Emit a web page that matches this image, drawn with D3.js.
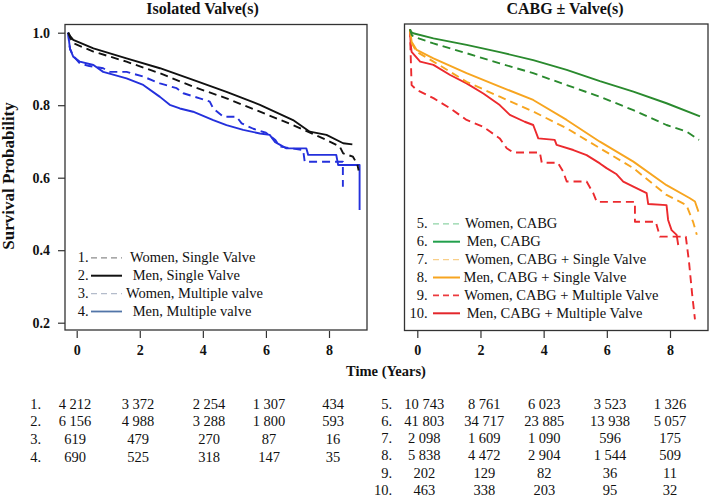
<!DOCTYPE html>
<html>
<head>
<meta charset="utf-8">
<script src="https://cdn.jsdelivr.net/npm/d3@7"></script>
<style>
  html, body { margin: 0; padding: 0; background: #fff; }
  svg { display: block; }
  text { font-family: "Liberation Serif", "Times New Roman", serif; fill: #111; }
</style>
</head>
<body>
<svg id="chart" width="709" height="497"></svg>
<script>
// ---------------- DATA ----------------
const xTicks = [0, 2, 4, 6, 8];
const yTicks = [0.2, 0.4, 0.6, 0.8, 1.0];

// Panel titles
const titleLeft = "Isolated Valve(s)";
const titleRight = "CABG \u00b1 Valve(s)";

// Isolated valve(s) curves: [time (years), survival]
const womenSingleValve = [[-0.27,1],[-0.2,0.985],[-0.11,0.971],[0.53,0.948],[1.58,0.92],[2.64,0.888],[3.69,0.851],[4.75,0.819],[5.81,0.782],[6.86,0.745],[7.92,0.704],[8.34,0.686],[8.45,0.667],[8.76,0.658],[8.9,0.636],[8.94,0.62]];
const menSingleValve = [[-0.27,1],[-0.2,0.99],[-0.11,0.98],[0.53,0.957],[1.58,0.929],[2.64,0.902],[3.69,0.87],[4.75,0.837],[5.81,0.801],[6.86,0.759],[7.39,0.727],[7.92,0.718],[8.45,0.695],[8.74,0.692]];
const womenMultipleValve = [[-0.27,1],[-0.24,0.97],[-0.21,0.955],[-0.11,0.936],[0.1,0.915],[0.4,0.908],[0.84,0.902],[1.05,0.892],[1.58,0.892],[2.11,0.879],[2.64,0.86],[3.17,0.847],[3.38,0.833],[3.9,0.819],[4.22,0.81],[4.33,0.791],[4.65,0.768],[5.07,0.768],[5.23,0.75],[5.6,0.735],[6.0,0.724],[6.3,0.704],[6.44,0.686],[7.18,0.676],[7.23,0.644],[8.44,0.644],[8.44,0.575]];
const menMultipleValve = [[-0.27,1],[-0.24,0.975],[-0.21,0.955],[-0.11,0.934],[0.1,0.92],[0.53,0.911],[0.84,0.892],[1.58,0.874],[2.11,0.856],[2.64,0.823],[2.95,0.801],[3.27,0.791],[3.69,0.782],[4.33,0.759],[4.75,0.745],[5.28,0.732],[5.81,0.722],[6.12,0.718],[6.28,0.699],[6.65,0.681],[7.28,0.681],[7.34,0.663],[8.23,0.663],[8.29,0.635],[8.97,0.635],[8.97,0.511]];

// CABG +/- valve(s) curves
const womenCABG = [[-0.23,1],[-0.18,0.985],[-0.13,0.98],[0.51,0.961],[1.56,0.934],[2.61,0.906],[3.67,0.879],[4.73,0.846],[5.78,0.814],[6.84,0.777],[7.89,0.736],[8.52,0.718],[8.92,0.695]];
const menCABG = [[-0.23,1],[-0.2,0.993],[-0.13,0.989],[0.51,0.975],[1.56,0.957],[2.61,0.937],[3.67,0.915],[4.73,0.888],[5.78,0.857],[6.84,0.828],[7.89,0.796],[8.95,0.76]];
const womenCABGSingle = [[-0.23,1],[-0.2,0.975],[-0.18,0.962],[-0.02,0.938],[0.51,0.911],[1.04,0.883],[1.56,0.855],[2.61,0.814],[3.67,0.773],[4.73,0.727],[5.78,0.672],[6.84,0.617],[7.89,0.543],[8.52,0.515],[8.73,0.469],[8.85,0.433]];
const menCABGSingle = [[-0.23,1],[-0.2,0.98],[-0.18,0.966],[-0.02,0.943],[0.51,0.92],[1.56,0.879],[2.61,0.842],[3.67,0.805],[4.73,0.75],[5.78,0.69],[6.84,0.635],[7.89,0.57],[8.63,0.534],[8.79,0.525],[8.9,0.497]];
const womenCABGMultiple = [[-0.23,1],[-0.21,0.93],[-0.18,0.846],[-0.02,0.833],[0.51,0.81],[1.04,0.782],[1.56,0.75],[2.09,0.731],[2.3,0.718],[2.61,0.699],[2.83,0.672],[3.04,0.66],[3.88,0.66],[3.94,0.632],[4.45,0.632],[4.62,0.607],[4.73,0.58],[5.36,0.58],[5.57,0.548],[5.68,0.524],[6.89,0.524],[6.89,0.469],[7.55,0.469],[7.68,0.428],[8.5,0.428],[8.6,0.36],[8.7,0.27],[8.79,0.2]];
const menCABGMultiple = [[-0.23,1],[-0.21,0.96],[-0.18,0.938],[0.09,0.911],[0.51,0.902],[1.04,0.874],[1.56,0.851],[2.09,0.823],[2.61,0.791],[2.93,0.764],[3.4,0.745],[3.67,0.736],[3.83,0.699],[4.35,0.695],[4.41,0.681],[4.94,0.667],[5.36,0.653],[5.78,0.63],[5.99,0.617],[6.31,0.6],[6.52,0.58],[6.84,0.566],[7.26,0.548],[7.31,0.518],[7.89,0.515],[7.94,0.474],[8.05,0.446],[8.21,0.433],[8.26,0.405]];

// Legends
const legendLeftLabels = ["Women, Single Valve", "Men, Single Valve", "Women, Multiple valve", "Men, Multiple valve"];
const legendRightLabels = ["Women, CABG", "Men, CABG", "Women, CABG + Single Valve", "Men, CABG + Single Valve", "Women, CABG + Multiple Valve", "Men, CABG + Multiple Valve"];

// Numbers at risk
const riskLeft = [
  [4212, 3372, 2254, 1307, 434],
  [6156, 4988, 3288, 1800, 593],
  [619, 479, 270, 87, 16],
  [690, 525, 318, 147, 35]
];
const riskRight = [
  [10743, 8761, 6023, 3523, 1326],
  [41803, 34717, 23885, 13938, 5057],
  [2098, 1609, 1090, 596, 175],
  [5838, 4472, 2904, 1544, 509],
  [202, 129, 82, 36, 11],
  [463, 338, 203, 95, 32]
];

const axisTitleY = "Survival Probability";
const axisTitleX = "Time (Years)";

// ---------------- LAYOUT / STYLE ----------------
const svg = d3.select("#chart");
const SERIF = '"Liberation Serif", "Times New Roman", serif';

const boxL = {x0: 65, x1: 367, y0: 24.5, y1: 330};
const boxR = {x0: 404.5, x1: 708, y0: 24, y1: 330.5};

const xL = d3.scaleLinear().domain([0, 8]).range([76.7, 329]);
const yL = d3.scaleLinear().domain([0.2, 1]).range([322.7, 32.7]);
const xR = d3.scaleLinear().domain([0, 8]).range([417.3, 670]);
const yR = d3.scaleLinear().domain([0.2, 1]).range([319.3, 29.3]);

const C = {
  black: "#111111",
  blue: "#2430dc",
  green: "#2a8a2e",
  orange: "#f7a520",
  red: "#ec2a2e"
};

const defs = svg.append("defs");
[["clipL", boxL], ["clipR", boxR]].forEach(([id, b]) => {
  defs.append("clipPath").attr("id", id).append("rect")
    .attr("x", b.x0).attr("y", b.y0).attr("width", b.x1 - b.x0).attr("height", b.y1 - b.y0);
});

// Titles
svg.append("text").attr("x", 202.5).attr("y", 13.5).attr("text-anchor", "middle")
  .style("font-size", "16px").style("font-weight", "bold").text(titleLeft);
svg.append("text").attr("x", 565).attr("y", 13.5).attr("text-anchor", "middle")
  .style("font-size", "16px").style("font-weight", "bold").text(titleRight);

// Curves
function drawCurves(data, x, y, clip) {
  const line = d3.line().x(d => x(d[0])).y(d => y(d[1]));
  const g = svg.append("g").attr("clip-path", `url(#${clip})`);
  data.forEach(s => {
    g.append("path").attr("d", line(s.values))
      .attr("fill", "none").attr("stroke", s.color).attr("stroke-width", s.width || 1.9)
      .attr("stroke-dasharray", s.dash ? "8,5" : null)
      .attr("stroke-linejoin", "round");
  });
}

drawCurves([
  {values: womenMultipleValve, color: C.blue, dash: true},
  {values: menMultipleValve, color: C.blue, dash: false},
  {values: womenSingleValve, color: C.black, dash: true},
  {values: menSingleValve, color: C.black, dash: false}
], xL, yL, "clipL");

drawCurves([
  {values: womenCABGMultiple, color: C.red, dash: true},
  {values: menCABGMultiple, color: C.red, dash: false},
  {values: womenCABGSingle, color: C.orange, dash: true},
  {values: menCABGSingle, color: C.orange, dash: false},
  {values: womenCABG, color: C.green, dash: true},
  {values: menCABG, color: C.green, dash: false}
], xR, yR, "clipR");

// Boxes
[boxL, boxR].forEach(b => {
  svg.append("rect").attr("x", b.x0).attr("y", b.y0)
    .attr("width", b.x1 - b.x0).attr("height", b.y1 - b.y0)
    .attr("fill", "none").attr("stroke", "#333").attr("stroke-width", 1.3);
});

// Axes
function styleAxis(g) {
  g.select(".domain").remove();
  g.selectAll(".tick line").attr("stroke", "#333").attr("stroke-width", 1.2);
  g.selectAll(".tick text").style("font-family", SERIF).style("font-size", "14px")
    .style("font-weight", "bold").attr("fill", "#111");
}
svg.append("g").attr("transform", `translate(0,${boxL.y1 + 1})`)
  .call(d3.axisBottom(xL).tickValues(xTicks).tickSize(7).tickPadding(7).tickFormat(d3.format("d")))
  .call(styleAxis);
svg.append("g").attr("transform", `translate(0,${boxR.y1 + 0.5})`)
  .call(d3.axisBottom(xR).tickValues(xTicks).tickSize(7).tickPadding(7).tickFormat(d3.format("d")))
  .call(styleAxis);
svg.append("g").attr("transform", `translate(${boxL.x0},0)`)
  .call(d3.axisLeft(yL).tickValues(yTicks).tickSize(7).tickPadding(8).tickFormat(d3.format(".1f")))
  .call(styleAxis);

// Axis titles
svg.append("text").attr("transform", "translate(14,176) rotate(-90)")
  .attr("text-anchor", "middle").style("font-size", "17px").style("font-weight", "bold")
  .text(axisTitleY);
svg.append("text").attr("x", 386).attr("y", 376).attr("text-anchor", "middle")
  .style("font-size", "14.5px").style("font-weight", "bold").text(axisTitleX);

// Legends
function drawLegend(labels, styles, opt) {
  labels.forEach((lab, i) => {
    const yb = opt.y0 + i * opt.dy;
    svg.append("text").attr("x", opt.numX).attr("y", yb).attr("text-anchor", "end")
      .style("font-size", "14.5px").text((opt.start + i) + ".");
    svg.append("line").attr("x1", opt.lx0).attr("x2", opt.lx1)
      .attr("y1", yb - 4.5).attr("y2", yb - 4.5)
      .attr("stroke", styles[i].color).attr("stroke-width", styles[i].width)
      .attr("stroke-dasharray", styles[i].dash ? "6,4" : null);
    svg.append("text").attr("x", opt.textX[i]).attr("y", yb)
      .style("font-size", "14.5px").text(lab);
  });
}
drawLegend(legendLeftLabels, [
  {color: "#8c8c8c", width: 1.3, dash: true},
  {color: "#111", width: 2, dash: false},
  {color: "#b4bccb", width: 1.3, dash: true},
  {color: "#5275a8", width: 1.8, dash: false}
], {start: 1, y0: 262.3, dy: 17.9, numX: 88.5, lx0: 91, lx1: 122, textX: [130, 132.7, 126, 132.7]});

drawLegend(legendRightLabels, [
  {color: "#8fd3a6", width: 1.3, dash: true},
  {color: "#22a04c", width: 2, dash: false},
  {color: "#f8cf8a", width: 1.3, dash: true},
  {color: "#f7a520", width: 2, dash: false},
  {color: "#ec3a3e", width: 1.6, dash: true},
  {color: "#e3262b", width: 2, dash: false}
], {start: 5, y0: 228.3, dy: 17.9, numX: 427.5, lx0: 433, lx1: 460, textX: [465, 466.7, 465, 463.5, 464.3, 466.7]});

// Numbers-at-risk tables
const fmt = d3.formatLocale({decimal: ".", thousands: " ", grouping: [3], currency: ["", ""]}).format(",d");
function drawTable(rows, opt) {
  rows.forEach((r, i) => {
    const yb = opt.y0 + i * opt.dy;
    svg.append("text").attr("x", opt.numX).attr("y", yb).attr("text-anchor", "end")
      .style("font-size", opt.fs).text((opt.start + i) + ".");
    r.forEach((v, j) => {
      svg.append("text").attr("x", opt.cols[j]).attr("y", yb).attr("text-anchor", "middle")
        .style("font-size", opt.fs).text(fmt(v));
    });
  });
}
drawTable(riskLeft, {start: 1, y0: 408.5, dy: 17.9, numX: 41, fs: "14.5px", cols: [75, 138, 209, 269, 333]});
drawTable(riskRight, {start: 5, y0: 408.5, dy: 17.3, numX: 392, fs: "14.5px", cols: [424.3, 484.3, 544.3, 610, 670]});
</script>
</body>
</html>
